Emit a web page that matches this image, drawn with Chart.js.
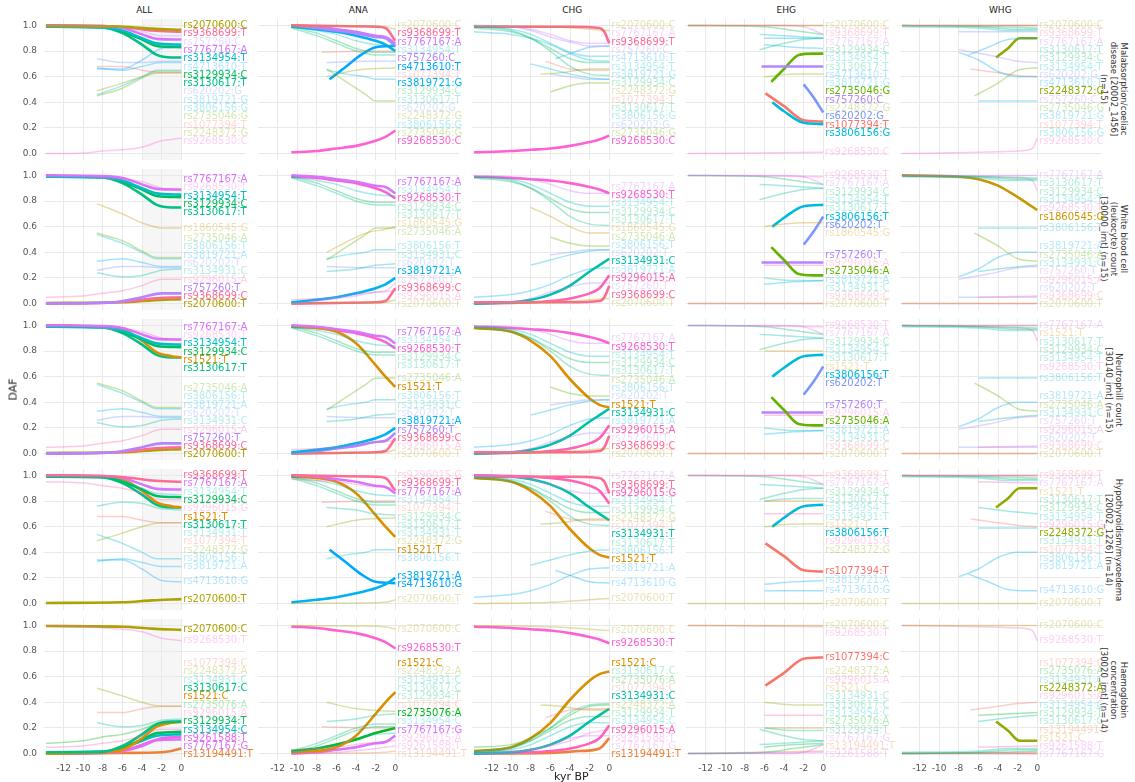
<!DOCTYPE html>
<html>
<head>
<meta charset="utf-8">
<script src="https://cdn.jsdelivr.net/npm/chart.js@4.4.0/dist/chart.umd.min.js"></script>
<style>
  body { margin: 0; background: #fff; width: 1135px; height: 782px; overflow: hidden; position: relative; font-family: "DejaVu Sans", sans-serif; }
  canvas.panel { position: absolute; }
  .coltitle { position: absolute; width: 201px; text-align: center; font-size: 9px; color: #222; top: 5px; }
  .strip { position: absolute; width: 140px; text-align: center; font-size: 8.5px; line-height: 10px; color: #333; transform-origin: center center; transform: rotate(90deg); }
  .axtitle { position: absolute; font-size: 11px; color: #222; }
</style>
</head>
<body>
<script>
// DAF trajectories per population, facets by trait

const populations = ["ALL", "ANA", "CHG", "EHG", "WHG"]
const xTicks = [-12, -10, -8, -6, -4, -2, 0]
const yTicks = [0, 0.2, 0.4, 0.6, 0.8, 1.0]
const traitNames = [
  ["Malabsorption/coeliac", "disease [20002_1456]", "(n=15)"],
  ["White blood cell", "(leukocyte) count", "[30000_irnt] (n=15)"],
  ["Neutrophill count", "[30140_irnt] (n=15)"],
  ["Hypothyroidism/myxoedema", "[20002_1226] (n=14)"],
  ["Haemoglobin", "concentration", "[30020_irnt] (n=14)"],
]

// SNP order used for the colour palette
const snpOrder = ["rs1077394", "rs13194491", "rs1521", "rs1860545", "rs2070600", "rs2248372", "rs2735046", "rs2735076",
  "rs3129934", "rs3130617", "rs3134931", "rs3134954", "rs3806156", "rs3819721", "rs4713610", "rs620202",
  "rs757260", "rs7767167", "rs9261588", "rs9268530", "rs9296015", "rs9368699"]

// SNPs per trait (row)
const row1Snps = ["rs2070600:C", "rs9368699:T", "rs757260:C", "rs7767167:A", "rs3134954:T", "rs3129934:C", "rs3130617:T",
  "rs4713610:T", "rs3819721:G", "rs3806156:G", "rs2735046:G", "rs620202:G", "rs1077394:T", "rs2248372:G", "rs9268530:C"]
const row2Snps = ["rs7767167:A", "rs3134954:T", "rs3129934:C", "rs3130617:T", "rs1860545:G", "rs2735046:A", "rs3806156:T",
  "rs3819721:A", "rs757260:T", "rs9368699:C", "rs2070600:T", "rs9268530:T", "rs3134931:C", "rs9296015:A", "rs620202:T"]
const row3Snps = ["rs7767167:A", "rs3134954:T", "rs3129934:C", "rs1521:T", "rs3130617:T", "rs2735046:A", "rs3806156:T",
  "rs3819721:A", "rs757260:T", "rs9368699:C", "rs2070600:T", "rs9268530:T", "rs3134931:C", "rs9296015:A", "rs620202:T"]
const row4Snps = ["rs9368699:T", "rs7767167:A", "rs3129934:C", "rs1521:T", "rs3130617:T", "rs3806156:T", "rs3819721:A",
  "rs4713610:G", "rs2070600:T", "rs9296015:G", "rs3134931:T", "rs1077394:T", "rs2248372:G", "rs3134954:T"]
const row5Snps = ["rs2070600:C", "rs9268530:T", "rs1077394:C", "rs2248372:A", "rs3134931:C", "rs3130617:C", "rs1521:C",
  "rs2735076:A", "rs9296015:A", "rs3129934:T", "rs3134954:C", "rs9261588:T", "rs7767167:G", "rs13194491:T"]

// highlighted SNPs per row, one list per population (ALL, ANA, CHG, EHG, WHG)
const row1Bold = [
  ["rs2070600:C", "rs9368699:T", "rs7767167:A", "rs3134954:T", "rs3129934:C", "rs3130617:T"],
  ["rs9368699:T", "rs7767167:A", "rs757260:C", "rs4713610:T", "rs3819721:G", "rs9268530:C"],
  ["rs9368699:T", "rs9268530:C"],
  ["rs757260:C", "rs2735046:G", "rs620202:G", "rs1077394:T", "rs3806156:G"],
  ["rs2248372:G"],
]
const row2Bold = [
  ["rs7767167:A", "rs3134954:T", "rs3129934:C", "rs3130617:T", "rs757260:T", "rs9368699:C", "rs2070600:T"],
  ["rs7767167:A", "rs9268530:T", "rs3819721:A", "rs9368699:C"],
  ["rs9268530:T", "rs3134931:C", "rs9296015:A", "rs9368699:C"],
  ["rs3806156:T", "rs620202:T", "rs2735046:A", "rs757260:T"],
  ["rs1860545:G"],
]
const row3Bold = [
  ["rs7767167:A", "rs3134954:T", "rs3129934:C", "rs1521:T", "rs3130617:T", "rs757260:T", "rs9368699:C", "rs2070600:T"],
  ["rs7767167:A", "rs9268530:T", "rs1521:T", "rs3819721:A", "rs757260:T", "rs9368699:C"],
  ["rs9268530:T", "rs1521:T", "rs3134931:C", "rs9296015:A", "rs9368699:C"],
  ["rs3806156:T", "rs620202:T", "rs2735046:A", "rs757260:T"],
  [],
]
const row4Bold = [
  ["rs9368699:T", "rs7767167:A", "rs3129934:C", "rs1521:T", "rs3130617:T", "rs2070600:T"],
  ["rs9368699:T", "rs7767167:A", "rs1521:T", "rs3819721:A", "rs4713610:G"],
  ["rs9368699:T", "rs9296015:G", "rs3134931:T", "rs1521:T"],
  ["rs3806156:T", "rs1077394:T"],
  ["rs2248372:G"],
]
const row5Bold = [
  ["rs2070600:C", "rs3130617:C", "rs1521:C", "rs3129934:T", "rs3134954:C", "rs9261588:T", "rs7767167:G", "rs13194491:T"],
  ["rs9268530:T", "rs1521:C", "rs2735076:A", "rs7767167:G"],
  ["rs9268530:T", "rs1521:C", "rs3134931:C", "rs9296015:A", "rs13194491:T"],
  ["rs1077394:C"],
  ["rs2248372:A"],
]

// trajectories: [snp:allele, [kyr, DAF, kyr, DAF, ...]]
const trajALL = [
  ["rs2070600:C", [-13.8, .995, -6, .99, -3, .975, 0, .965]],
  ["rs2070600:T", [-13.8, .005, -6, .01, -3, .025, 0, .035]],
  ["rs9368699:T", [-13.8, 1, -8, .995, -5, .98, -3, .96, 0, .95]],
  ["rs9368699:C", [-13.8, 0, -8, .005, -5, .02, -3, .04, 0, .05]],
  ["rs757260:C", [-13.8, 1, -7, .99, -4, .95, -2, .92, 0, .92]],
  ["rs757260:T", [-13.8, 0, -7, .01, -4, .05, -2, .08, 0, .08]],
  ["rs7767167:A", [-13.8, 1, -8, .995, -6, .98, -4, .93, -2.5, .895, 0, .89]],
  ["rs7767167:G", [-13.8, 0, -8, .005, -6, .02, -4, .07, -2.5, .105, 0, .11]],
  ["rs3134954:T", [-13.8, .99, -8, .985, -6, .96, -4, .9, -2.5, .86, 0, .85]],
  ["rs3134954:C", [-13.8, .01, -8, .015, -6, .04, -4, .1, -2.5, .14, 0, .15]],
  ["rs3129934:C", [-13.8, .995, -8, .99, -6, .95, -4, .89, -2.5, .84, 0, .83]],
  ["rs3129934:T", [-13.8, .005, -8, .01, -6, .05, -4, .11, -2.5, .16, 0, .17]],
  ["rs3130617:T", [-13.8, .99, -8, .985, -6, .94, -4, .85, -2.5, .77, -1, .75, 0, .75]],
  ["rs3130617:C", [-13.8, .01, -8, .015, -6, .06, -4, .15, -2.5, .23, -1, .25, 0, .25]],
  ["rs1521:T", [-13.8, 1, -8, .99, -6, .97, -4, .88, -2.5, .79, -1, .76, 0, .75]],
  ["rs1521:C", [-13.8, 0, -8, .01, -6, .03, -4, .12, -2.5, .21, -1, .24, 0, .25]],
  ["rs1860545:G", [-8.6, .78, -6, .7, -4, .63, -2, .59, 0, .59]],
  ["rs2735046:A", [-8.6, .55, -6, .49, -4, .41, -2.5, .36, 0, .36]],
  ["rs2735046:G", [-8.6, .45, -6, .51, -4, .59, -2.5, .64, 0, .64]],
  ["rs3806156:T", [-8.6, .54, -6, .47, -4, .4, -2.5, .35, 0, .35]],
  ["rs3806156:G", [-8.6, .46, -6, .53, -4, .6, -2.5, .65, 0, .65]],
  ["rs3819721:A", [-8.6, .33, -6, .35, -4, .32, -2, .29, 0, .29]],
  ["rs3819721:G", [-8.6, .67, -6, .65, -4, .68, -2, .71, 0, .71]],
  ["rs620202:T", [-8.6, .26, -6, .29, -4, .29, -2, .28, 0, .28]],
  ["rs620202:G", [-8.6, .74, -6, .71, -4, .71, -2, .72, 0, .72]],
  ["rs3134931:C", [-8.6, .24, -6, .21, -4, .22, -2, .26, 0, .27]],
  ["rs3134931:T", [-8.6, .76, -6, .79, -4, .78, -2, .74, 0, .73]],
  ["rs9268530:C", [-13.8, 0, -10, .005, -8, .02, -6, .03, -4, .05, -2, .1, -1, .11, 0, .12]],
  ["rs9268530:T", [-13.8, 1, -10, .995, -8, .98, -6, .97, -4, .95, -2, .9, -1, .89, 0, .88]],
  ["rs9296015:A", [-13.8, .05, -10, .06, -8, .08, -6, .1, -4, .14, -2, .19, 0, .19]],
  ["rs9296015:G", [-13.8, .95, -10, .94, -8, .92, -6, .9, -4, .86, -2, .81, 0, .81]],
  ["rs4713610:T", [-8.6, .66, -6, .66, -4, .73, -2, .82, 0, .83]],
  ["rs4713610:G", [-8.6, .34, -6, .34, -4, .27, -2, .18, 0, .17]],
  ["rs1077394:T", [-8.6, .68, -6, .68, -4, .65, -2, .63, 0, .63]],
  ["rs1077394:C", [-8.6, .32, -6, .32, -4, .35, -2, .37, 0, .37]],
  ["rs2248372:G", [-8.6, .49, -6, .55, -4, .6, -2, .63, 0, .63]],
  ["rs2248372:A", [-8.6, .51, -6, .45, -4, .4, -2, .37, 0, .37]],
  ["rs2735076:A", [-13.8, .08, -10, .1, -8, .13, -6, .15, -4, .19, -2, .24, 0, .24]],
  ["rs9261588:T", [-13.8, 0, -8, .01, -6, .02, -4, .06, -2, .12, 0, .13]],
  ["rs13194491:T", [-13.8, 0, -6, .005, -2, .01, -1, .02, 0, .04]],
]

const trajANA = [
  ["rs2070600:C", [-10.6, 1, -4, .995, -1, .99, 0, .97]],
  ["rs2070600:T", [-10.6, 0, -4, .005, -1, .01, 0, .03]],
  ["rs9368699:T", [-10.6, 1, -6, .995, -2, .99, -1, .98, 0, .88]],
  ["rs9368699:C", [-10.6, 0, -6, .005, -2, .01, -1, .02, 0, .12]],
  ["rs757260:C", [-10.6, 1, -8, .98, -6, .96, -4, .94, -2, .91, -1, .9, 0, .84]],
  ["rs757260:T", [-10.6, 0, -8, .02, -6, .04, -4, .06, -2, .09, -1, .1, 0, .16]],
  ["rs7767167:A", [-10.6, 1, -8, .99, -6, .97, -4, .95, -2, .92, -1, .91, 0, .86]],
  ["rs7767167:G", [-10.6, 0, -8, .01, -6, .03, -4, .05, -2, .08, -1, .09, 0, .14]],
  ["rs3134954:T", [-10.6, .99, -8, .96, -6, .93, -4, .88, -2, .85, 0, .84]],
  ["rs3134954:C", [-10.6, .01, -8, .04, -6, .07, -4, .12, -2, .15, 0, .16]],
  ["rs3129934:C", [-10.6, .99, -8, .94, -6, .88, -4, .82, -2, .79, 0, .79]],
  ["rs3129934:T", [-10.6, .01, -8, .06, -6, .12, -4, .18, -2, .21, 0, .21]],
  ["rs3130617:T", [-10.6, .98, -8, .92, -6, .86, -4, .8, -2, .77, 0, .77]],
  ["rs3130617:C", [-10.6, .02, -8, .08, -6, .14, -4, .2, -2, .23, 0, .23]],
  ["rs1521:T", [-10.6, .99, -8, .98, -6, .95, -4, .86, -2, .69, -1, .6, 0, .52]],
  ["rs1521:C", [-10.6, .01, -8, .02, -6, .05, -4, .14, -2, .31, -1, .4, 0, .48]],
  ["rs1860545:G", [-7, .4, -5, .48, -3, .55, -1, .58, 0, .6]],
  ["rs2735046:G", [-7, .66, -5, .56, -3, .46, -2, .41, 0, .41]],
  ["rs2735046:A", [-7, .34, -5, .44, -3, .54, -2, .59, 0, .59]],
  ["rs3806156:G", [-7, .65, -5, .62, -3, .6, -2, .58, 0, .58]],
  ["rs3806156:T", [-7, .35, -5, .38, -3, .4, -2, .42, 0, .42]],
  ["rs3819721:G", [-10.6, .99, -8, .97, -6, .95, -4, .92, -2, .88, -1, .85, 0, .8]],
  ["rs3819721:A", [-10.6, .01, -8, .03, -6, .05, -4, .08, -2, .12, -1, .15, 0, .2]],
  ["rs4713610:T", [-6.7, .58, -5, .68, -3.5, .77, -2, .83, 0, .84]],
  ["rs4713610:G", [-6.7, .42, -5, .32, -3.5, .23, -2, .17, 0, .16]],
  ["rs620202:G", [-7, .71, -3, .72, 0, .72]],
  ["rs620202:T", [-7, .29, -3, .28, 0, .28]],
  ["rs1077394:T", [-7.5, .79, -3, .8, 0, .8]],
  ["rs1077394:C", [-7.5, .21, -3, .2, 0, .2]],
  ["rs3134931:C", [-7, .25, -4, .27, -2, .3, 0, .31]],
  ["rs3134931:T", [-7, .75, -4, .73, -2, .7, 0, .69]],
  ["rs9268530:C", [-10.6, .01, -8, .02, -6, .04, -4, .06, -2, .1, -1, .13, 0, .18]],
  ["rs9268530:T", [-10.6, .99, -8, .98, -6, .96, -4, .94, -2, .9, -1, .87, 0, .82]],
  ["rs9296015:A", [-10.6, .03, -6, .05, -3, .08, 0, .1]],
  ["rs9296015:G", [-10.6, .97, -6, .95, -3, .92, 0, .9]],
  ["rs2248372:G", [-7, .6, -4, .65, 0, .67]],
  ["rs2248372:A", [-7, .4, -4, .35, 0, .33]],
  ["rs2735076:A", [-10.6, .02, -8, .04, -6, .07, -4, .11, -2, .16, -1, .18, 0, .2]],
  ["rs9261588:T", [-10.6, 0, -6, .01, -3, .03, 0, .06]],
  ["rs13194491:T", [-10.6, 0, -4, .005, -1, .01, 0, .02]],
]

const trajCHG = [
  ["rs2070600:C", [-13.8, 1, -6, .99, -2, .97, 0, .96]],
  ["rs2070600:T", [-13.8, 0, -6, .01, -2, .03, 0, .04]],
  ["rs9368699:T", [-13.8, .99, -4, .99, -1, .98, -.5, .95, 0, .86]],
  ["rs9368699:C", [-13.8, .01, -4, .01, -1, .02, -.5, .05, 0, .14]],
  ["rs757260:C", [-13.8, 1, -10, .99, -8, .96, -6, .91, -4, .87, -2, .84, 0, .84]],
  ["rs757260:T", [-13.8, 0, -10, .01, -8, .04, -6, .09, -4, .13, -2, .16, 0, .16]],
  ["rs7767167:A", [-13.8, 1, -10, .99, -8, .97, -6, .93, -4, .88, -2, .86, 0, .86]],
  ["rs7767167:G", [-13.8, 0, -10, .01, -8, .03, -6, .07, -4, .12, -2, .14, 0, .14]],
  ["rs3134954:T", [-13.8, .99, -10, .97, -8, .93, -6, .86, -4, .79, -2, .76, 0, .76]],
  ["rs3134954:C", [-13.8, .01, -10, .03, -8, .07, -6, .14, -4, .21, -2, .24, 0, .24]],
  ["rs3129934:C", [-13.8, .98, -10, .95, -8, .9, -6, .82, -4, .74, -2, .71, 0, .71]],
  ["rs3129934:T", [-13.8, .02, -10, .05, -8, .1, -6, .18, -4, .26, -2, .29, 0, .29]],
  ["rs3130617:T", [-13.8, .99, -10, .96, -8, .9, -6, .8, -4, .68, -2, .62, 0, .61]],
  ["rs3130617:C", [-13.8, .01, -10, .04, -8, .1, -6, .2, -4, .32, -2, .38, 0, .39]],
  ["rs1521:T", [-13.8, .98, -10, .95, -8, .88, -6, .76, -4, .58, -2, .43, -1, .38, 0, .36]],
  ["rs1521:C", [-13.8, .02, -10, .05, -8, .12, -6, .24, -4, .42, -2, .57, -1, .62, 0, .64]],
  ["rs1860545:G", [-8, .75, -6, .68, -4, .6, -2, .55, 0, .55]],
  ["rs2735046:A", [-6, .52, -4, .47, -2, .45, 0, .45]],
  ["rs2735046:G", [-6, .48, -4, .53, -2, .55, 0, .55]],
  ["rs3806156:T", [-8, .3, -6, .34, -4, .38, -2, .41, 0, .42]],
  ["rs3806156:G", [-8, .7, -6, .66, -4, .62, -2, .59, 0, .58]],
  ["rs3819721:A", [-13.8, .05, -10, .07, -8, .1, -6, .15, -4, .22, -2, .27, 0, .28]],
  ["rs3819721:G", [-13.8, .95, -10, .93, -8, .9, -6, .85, -4, .78, -2, .73, 0, .72]],
  ["rs4713610:T", [-5.5, .74, -4, .78, -2, .83, 0, .84]],
  ["rs4713610:G", [-5.5, .26, -4, .22, -2, .17, 0, .16]],
  ["rs620202:G", [-6, .62, -4, .6, -2, .58, 0, .58]],
  ["rs620202:T", [-6, .38, -4, .4, -2, .42, 0, .42]],
  ["rs1077394:T", [-6.5, .72, -4, .66, -2, .65, 0, .65]],
  ["rs1077394:C", [-6.5, .28, -4, .34, -2, .35, 0, .35]],
  ["rs3134931:C", [-13.8, 0, -10, .01, -8, .03, -6, .07, -4, .14, -2, .25, -1, .3, 0, .35]],
  ["rs3134931:T", [-13.8, 1, -10, .99, -8, .97, -6, .93, -4, .86, -2, .75, -1, .7, 0, .65]],
  ["rs9268530:C", [-13.8, .01, -10, .02, -8, .03, -6, .04, -4, .06, -2, .09, -1, .11, 0, .14]],
  ["rs9268530:T", [-13.8, .99, -10, .98, -8, .97, -6, .96, -4, .94, -2, .91, -1, .89, 0, .86]],
  ["rs9296015:A", [-13.8, 0, -10, .005, -8, .01, -6, .02, -4, .04, -2, .08, -1, .12, 0, .22]],
  ["rs9296015:G", [-13.8, 1, -10, .995, -8, .99, -6, .98, -4, .96, -2, .92, -1, .88, 0, .78]],
  ["rs2248372:G", [-7, .62, -5, .63, -2, .66, 0, .66]],
  ["rs2248372:A", [-7, .38, -5, .37, -2, .34, 0, .34]],
  ["rs2735076:A", [-13.8, .05, -10, .07, -8, .12, -6, .2, -4, .3, -2, .37, 0, .38]],
  ["rs9261588:T", [-13.8, .01, -8, .03, -6, .06, -4, .1, -2, .16, 0, .19]],
  ["rs13194491:T", [-13.8, 0, -6, .005, -3, .02, -1, .04, 0, .12]],
]

const trajEHG = [
  ["rs2070600:C", [-13.8, 1, 0, 1]],
  ["rs2070600:T", [-13.8, 0, 0, 0]],
  ["rs9368699:T", [-13.8, 1, 0, 1]],
  ["rs9368699:C", [-13.8, 0, 0, 0]],
  ["rs757260:C", [-6.3, .68, -3, .68, 0, .68]],
  ["rs757260:T", [-6.3, .32, -3, .32, 0, .32]],
  ["rs7767167:A", [-13.8, 1, -4, 1, -2, .99, 0, .93]],
  ["rs7767167:G", [-13.8, 0, -4, 0, -2, .01, 0, .07]],
  ["rs3134954:T", [-6.5, .93, -4, .92, -2, .91, 0, .9]],
  ["rs3134954:C", [-6.5, .07, -4, .08, -2, .09, 0, .1]],
  ["rs3129934:C", [-13.8, 1, -6, .99, -3, .96, 0, .93]],
  ["rs3129934:T", [-13.8, 0, -6, .01, -3, .04, 0, .07]],
  ["rs3130617:T", [-6.5, .81, -4, .86, -2, .89, 0, .9]],
  ["rs3130617:C", [-6.5, .19, -4, .14, -2, .11, 0, .1]],
  ["rs1521:T", [-6, .8, -4, .8, 0, .8]],
  ["rs1521:C", [-6, .2, -4, .2, 0, .2]],
  ["rs1860545:G", [-6, .6, -4, .62, -2, .63, 0, .63]],
  ["rs2735046:G", [-5.3, .56, -4, .66, -2.5, .77, -1, .78, 0, .78]],
  ["rs2735046:A", [-5.3, .44, -4, .34, -2.5, .23, -1, .22, 0, .22]],
  ["rs3806156:G", [-5.2, .4, -4, .33, -2, .24, 0, .23]],
  ["rs3806156:T", [-5.2, .6, -4, .67, -2, .76, 0, .77]],
  ["rs3819721:A", [-6, .15, -3, .17, 0, .18]],
  ["rs3819721:G", [-6, .85, -3, .83, 0, .82]],
  ["rs4713610:T", [-6, .9, -3, .9, 0, .9]],
  ["rs4713610:G", [-6, .1, -3, .1, 0, .1]],
  ["rs620202:G", [-2, .54, -1, .44, 0, .32]],
  ["rs620202:T", [-2, .46, -1, .56, 0, .68]],
  ["rs1077394:T", [-5.9, .47, -4, .37, -2, .26, 0, .25]],
  ["rs1077394:C", [-5.9, .53, -4, .63, -2, .74, 0, .75]],
  ["rs3134931:C", [-6, .2, -3, .18, 0, .18]],
  ["rs3134931:T", [-6, .8, -3, .82, 0, .82]],
  ["rs9268530:C", [-13.8, 0, 0, .01]],
  ["rs9268530:T", [-13.8, 1, 0, .99]],
  ["rs9296015:A", [-6, .3, -3, .3, 0, .3]],
  ["rs9296015:G", [-6, .7, -3, .7, 0, .7]],
  ["rs2248372:G", [-6, .6, -3, .62, 0, .62]],
  ["rs2248372:A", [-6, .4, -3, .38, 0, .38]],
  ["rs2735076:A", [-6, .05, -3, .07, 0, .08]],
  ["rs9261588:T", [-13.8, 0, 0, .01]],
  ["rs13194491:T", [-13.8, 0, 0, .02]],
]

const trajWHG = [
  ["rs2070600:C", [-13.8, 1, 0, 1]],
  ["rs2070600:T", [-13.8, 0, 0, 0]],
  ["rs9368699:T", [-13.8, 1, 0, 1]],
  ["rs9368699:C", [-13.8, 0, 0, 0]],
  ["rs757260:C", [-8, .81, -5, .77, -2, .72, 0, .71]],
  ["rs757260:T", [-8, .19, -5, .23, -2, .28, 0, .29]],
  ["rs7767167:A", [-13.8, 1, 0, 1]],
  ["rs7767167:G", [-13.8, 0, 0, 0]],
  ["rs3134954:T", [-13.8, .99, -6, .98, -3, .96, 0, .96]],
  ["rs3134954:C", [-13.8, .01, -6, .02, -3, .04, 0, .04]],
  ["rs3129934:C", [-13.8, 1, -6, .99, -2, .97, 0, .97]],
  ["rs3129934:T", [-13.8, 0, -6, .01, -2, .03, 0, .03]],
  ["rs3130617:T", [-13.8, 1, -4, .99, 0, .98]],
  ["rs3130617:C", [-13.8, 0, -4, .01, 0, .02]],
  ["rs1521:T", [-13.8, 1, 0, 1]],
  ["rs1521:C", [-13.8, 0, 0, 0]],
  ["rs1860545:G", [-13.8, 1, -8, .99, -6, .97, -4, .92, -2, .83, -1, .78, 0, .73]],
  ["rs2735046:G", [-6.4, .45, -4, .55, -2, .65, 0, .67]],
  ["rs2735046:A", [-6.4, .55, -4, .45, -2, .35, 0, .33]],
  ["rs3806156:G", [-6, .41, -3, .41, 0, .41]],
  ["rs3806156:T", [-6, .59, -3, .59, 0, .59]],
  ["rs3819721:A", [-8, .21, -6, .27, -4, .36, -2, .4, 0, .4]],
  ["rs3819721:G", [-8, .79, -6, .73, -4, .64, -2, .6, 0, .6]],
  ["rs4713610:T", [-7, .77, -5, .83, -3, .89, -1, .9, 0, .9]],
  ["rs4713610:G", [-7, .23, -5, .17, -3, .11, -1, .1, 0, .1]],
  ["rs620202:G", [-8, .95, 0, .95]],
  ["rs620202:T", [-8, .05, 0, .05]],
  ["rs1077394:T", [-6.8, .66, -4, .63, -2, .61, 0, .6]],
  ["rs1077394:C", [-6.8, .34, -4, .37, -2, .39, 0, .4]],
  ["rs3134931:C", [-6, .25, -3, .28, 0, .3]],
  ["rs3134931:T", [-6, .75, -3, .72, 0, .7]],
  ["rs9268530:C", [-13.8, 0, -6, .01, -2, .02, -.5, .04, 0, .12]],
  ["rs9268530:T", [-13.8, 1, -6, .99, -2, .98, -.5, .96, 0, .88]],
  ["rs9296015:A", [-6, .05, 0, .06]],
  ["rs9296015:G", [-6, .95, 0, .94]],
  ["rs2248372:G", [-4.2, .75, -3, .82, -1.8, .9, 0, .9]],
  ["rs2248372:A", [-4.2, .25, -3, .18, -1.8, .1, 0, .1]],
  ["rs2735076:A", [-6, .3, 0, .32]],
  ["rs9261588:T", [-13.8, 0, 0, 0]],
  ["rs13194491:T", [-13.8, 0, 0, .01]],
]

const rowSnps = [row1Snps, row2Snps, row3Snps, row4Snps, row5Snps]
const rowBold = [row1Bold, row2Bold, row3Bold, row4Bold, row5Bold]
const trajectories = [trajALL, trajANA, trajCHG, trajEHG, trajWHG]

// ---- layout ----
const PX_PER_KYR = 9.8
const PX_PER_DAF = 128.5
const X_MIN = -14, X_MAX = 6.5
const Y_MIN = -0.05, Y_MAX = 1.05
const PW = Math.round((X_MAX - X_MIN) * PX_PER_KYR)
const PH = Math.round((Y_MAX - Y_MIN) * PX_PER_DAF)
const YW = 44, XH = 18, RP = 34
const COL0 = 43.8, COL_STEP = 214
const ROW0 = 18.6, ROW_STEP = 150.2

// ggplot-like hue palette (hcl, c=100, l=65)
function hclToRgb(h, c, l) {
  const hr = h * Math.PI / 180
  const U = c * Math.cos(hr), V = c * Math.sin(hr)
  const Xn = 95.047, Yn = 100, Zn = 108.883
  const un = 4 * Xn / (Xn + 15 * Yn + 3 * Zn), vn = 9 * Yn / (Xn + 15 * Yn + 3 * Zn)
  const Y = l > 8 ? Yn * Math.pow((l + 16) / 116, 3) : Yn * l / 903.3
  const u = U / (13 * l) + un, v = V / (13 * l) + vn
  const X = 9 * Y * u / (4 * v)
  const Z = (9 * Y - 15 * v * Y - v * X) / (3 * v)
  const x = X / 100, y = Y / 100, z = Z / 100
  const lin = [
    3.2404542 * x - 1.5371385 * y - 0.4985314 * z,
    -0.9692660 * x + 1.8760108 * y + 0.0415560 * z,
    0.0556434 * x - 0.2040259 * y + 1.0572252 * z,
  ]
  return lin.map((c) => {
    const g = c <= 0.0031308 ? 12.92 * c : 1.055 * Math.pow(c, 1 / 2.4) - 0.055
    return Math.round(Math.max(0, Math.min(1, g)) * 255)
  })
}

const snpColor = {}
snpOrder.forEach((s, i) => {
  snpColor[s] = hclToRgb(15 + 360 * i / snpOrder.length, 100, 65)
})

function rgba(rgb, a) {
  return `rgba(${rgb[0]},${rgb[1]},${rgb[2]},${a})`
}

function toPoints(flat) {
  const pts = []
  for (let i = 0; i < flat.length; i += 2) pts.push({ x: flat[i], y: flat[i + 1] })
  return pts
}

// shaded window behind the lines (ALL panels)
const bandPlugin = {
  id: "band",
  beforeDraw(chart, args, opts) {
    if (!opts.show) return
    const { ctx, chartArea, scales } = chart
    const x1 = scales.x.getPixelForValue(-4)
    const x2 = scales.x.getPixelForValue(0)
    ctx.save()
    ctx.fillStyle = "rgba(0,0,0,0.035)"
    ctx.fillRect(x1, chartArea.top, x2 - x1, chartArea.bottom - chartArea.top)
    ctx.restore()
  },
}

// place labels: overlapping groups are merged and centred on their targets
function spreadLabels(items, gap, top, bottom) {
  let groups = items.map((it) => ({ members: [it], sum: it.target }))
  const pos = (g) => {
    const n = g.members.length
    const p = g.sum / n - (n - 1) * gap / 2
    return Math.max(top, Math.min(bottom - (n - 1) * gap, p))
  }
  let merged = true
  while (merged) {
    merged = false
    for (let i = 1; i < groups.length; i++) {
      const a = groups[i - 1], b = groups[i]
      if (pos(a) + a.members.length * gap > pos(b)) {
        groups.splice(i - 1, 2, { members: a.members.concat(b.members), sum: a.sum + b.sum })
        merged = true
        break
      }
    }
  }
  groups.forEach((g) => {
    const p = pos(g)
    g.members.forEach((it, k) => { it.y = p + k * gap })
  })
}

// repelled SNP labels to the right of x = 0
const labelPlugin = {
  id: "snpLabels",
  afterDatasetsDraw(chart) {
    const { ctx, scales } = chart
    const items = chart.data.datasets.map((ds) => {
      const last = ds.data[ds.data.length - 1]
      return { text: ds.label, target: scales.y.getPixelForValue(last.y), color: ds.labelColor }
    })
    items.sort((a, b) => a.target - b.target)
    spreadLabels(items, 8.3, scales.y.getPixelForValue(1.0), scales.y.getPixelForValue(-0.01))
    const x0 = scales.x.getPixelForValue(0) + 2
    ctx.save()
    ctx.font = '10px "DejaVu Sans"'
    ctx.textBaseline = "middle"
    items.forEach((it) => {
      ctx.fillStyle = it.color
      ctx.fillText(it.text, x0, it.y)
    })
    ctx.restore()
  },
}

function buildPanel(r, c) {
  const canvas = document.createElement("canvas")
  canvas.className = "panel"
  canvas.width = YW + PW + RP
  canvas.height = PH + XH
  canvas.style.left = (COL0 + COL_STEP * c - YW) + "px"
  canvas.style.top = (ROW0 + ROW_STEP * r) + "px"
  document.body.appendChild(canvas)

  const bold = rowBold[r][c]
  const traj = new Map(trajectories[c])
  const faint = [], strong = []
  rowSnps[r].forEach((key) => {
    if (!traj.has(key)) return
    const rgb = snpColor[key.split(":")[0]]
    const isBold = bold.includes(key)
    const ds = {
      label: key,
      data: toPoints(traj.get(key)),
      borderColor: rgba(rgb, isBold ? 1 : 0.35),
      borderWidth: isBold ? 2.6 : 1.5,
      labelColor: rgba(rgb, isBold ? 1 : 0.3),
      fill: false,
      pointRadius: 0,
    }
    ;(isBold ? strong : faint).push(ds)
  })

  const isLeft = c === 0
  const isBottom = r === 4

  new Chart(canvas, {
    type: "line",
    data: { datasets: faint.concat(strong) },
    options: {
      responsive: false,
      animation: false,
      layout: { autoPadding: false, padding: { left: 0, right: RP, top: 0, bottom: 0 } },
      elements: { line: { cubicInterpolationMode: "monotone" }, point: { radius: 0 } },
      plugins: { legend: { display: false }, tooltip: { enabled: false }, band: { show: c === 0 } },
      scales: {
        x: {
          type: "linear",
          min: X_MIN,
          max: X_MAX,
          afterBuildTicks: (s) => { s.ticks = xTicks.map((v) => ({ value: v })) },
          afterFit: (s) => { s.height = XH; s.paddingLeft = 0; s.paddingRight = 0 },
          grid: { color: "#e9e9e9", lineWidth: 1, drawTicks: false },
          border: { display: false },
          ticks: { display: isBottom, padding: 3, color: "#555", font: { size: 9, family: "DejaVu Sans" }, callback: (v) => String(v) },
        },
        y: {
          min: Y_MIN,
          max: Y_MAX,
          afterBuildTicks: (s) => { s.ticks = yTicks.map((v) => ({ value: v })) },
          afterFit: (s) => { s.width = YW; s.paddingTop = 0; s.paddingBottom = 0 },
          grid: { color: "#e9e9e9", lineWidth: 1, drawTicks: false },
          border: { display: false },
          ticks: { display: isLeft, padding: 7, color: "#555", font: { size: 9, family: "DejaVu Sans" }, callback: (v) => v.toFixed(1) },
        },
      },
    },
    plugins: [bandPlugin, labelPlugin],
  })
}

// column titles
populations.forEach((p, c) => {
  const d = document.createElement("div")
  d.className = "coltitle"
  d.style.left = (COL0 + COL_STEP * c) + "px"
  d.textContent = p
  document.body.appendChild(d)
})

// row strips on the right
traitNames.forEach((lines, r) => {
  const d = document.createElement("div")
  d.className = "strip"
  d.innerHTML = lines.join("<br>")
  const h = lines.length * 10
  const cy = ROW0 + ROW_STEP * r + PH / 2
  d.style.left = (1114 - 70) + "px"
  d.style.top = (cy - h / 2) + "px"
  document.body.appendChild(d)
})

for (let r = 0; r < 5; r++) {
  for (let c = 0; c < 5; c++) buildPanel(r, c)
}

// axis titles
const daf = document.createElement("div")
daf.className = "axtitle"
daf.textContent = "DAF"
daf.style.left = "2px"
daf.style.top = "383px"
daf.style.transform = "rotate(-90deg)"
document.body.appendChild(daf)

const kyr = document.createElement("div")
kyr.className = "axtitle"
kyr.textContent = "kyr BP"
kyr.style.left = "554px"
kyr.style.top = "770px"
document.body.appendChild(kyr)
</script>
</body>
</html>
